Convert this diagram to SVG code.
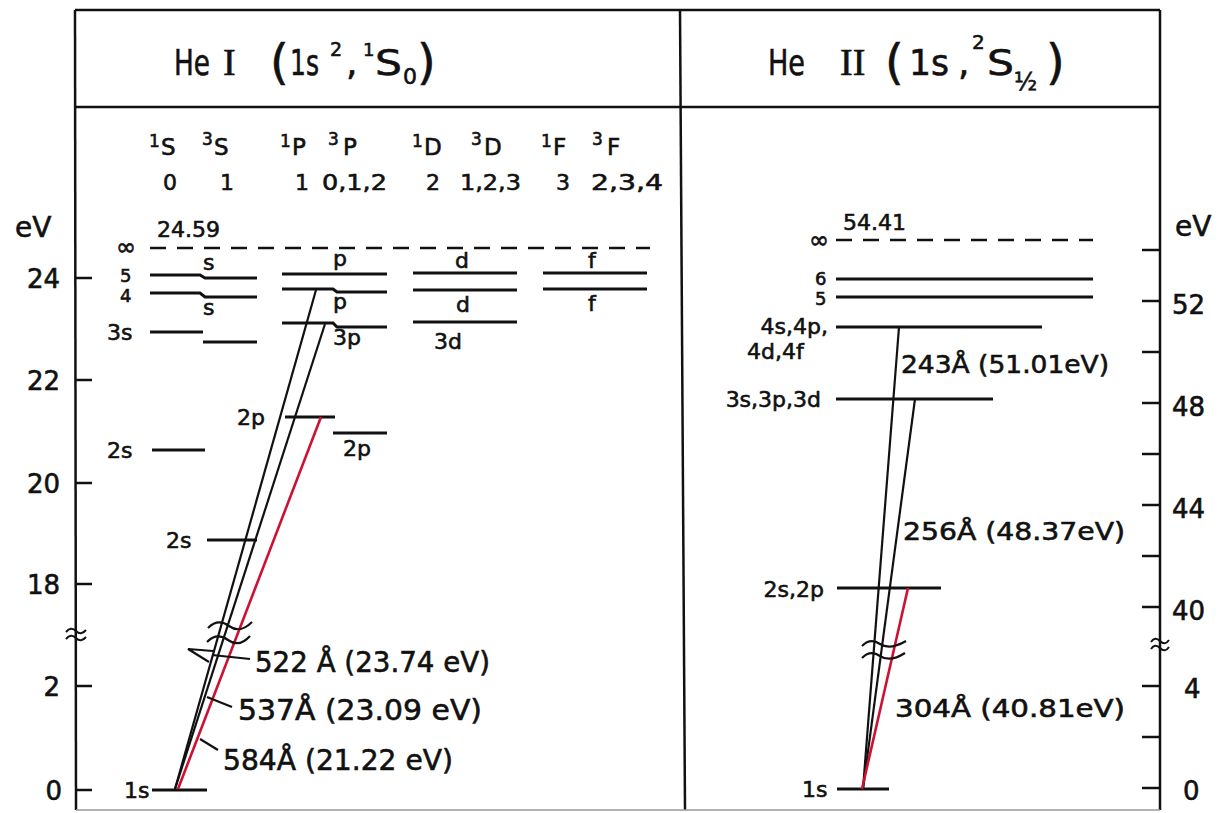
<svg xmlns="http://www.w3.org/2000/svg" width="1223" height="813" viewBox="0 0 1223 813">
<style>
 .ln{stroke:#111;stroke-width:3;fill:none}
 .fr{stroke:#111;stroke-width:2.5;fill:none}
 .tk{stroke:#111;stroke-width:2.5;fill:none}
 .tr{stroke:#111;stroke-width:2.2;fill:none}
 .red{stroke:#cc1133;stroke-width:2.6;fill:none}
 .dash{stroke:#111;stroke-width:2.5;stroke-dasharray:16 11;fill:none}
 text{font-family:"DejaVu Sans","Liberation Sans",sans-serif;fill:#111;stroke:#111;stroke-width:0.6px}
 .ax{font-size:26px}
 .lb{font-size:22px}
 .sm{font-size:18px}
 .tl{font-size:29px}
 .tt{font-size:25px}
 .rn{font-family:"Liberation Serif","DejaVu Serif",serif}
</style>
<rect width="1223" height="813" fill="#fff"/>

<g id="frame">
 <line class="fr" x1="75" y1="10" x2="1160" y2="10"/>
 <line class="fr" x1="75" y1="107" x2="1160" y2="107"/>
 <line class="fr" x1="75" y1="10" x2="76" y2="810"/>
 <line class="fr" x1="1160" y1="10" x2="1160" y2="810"/>
 <line class="fr" x1="680" y1="10" x2="685" y2="810"/>
 <line x1="76" y1="810" x2="1160" y2="810" stroke="#999" stroke-width="1.5"/>
</g>

<g id="title-he1">
 <text x="174" y="75" font-size="36" textLength="36" lengthAdjust="spacingAndGlyphs">He</text>
 <text x="223" y="75" class="rn" font-size="38">I</text>
 <text x="270" y="79" font-size="48">(</text>
 <text x="290" y="75" font-size="36" textLength="29" lengthAdjust="spacingAndGlyphs">1s</text>
 <text x="330" y="56" font-size="19">2</text>
 <text x="346" y="75" font-size="36">,</text>
 <text x="363" y="56" font-size="18">1</text>
 <text x="375" y="75" font-size="36" textLength="27" lengthAdjust="spacingAndGlyphs">S</text>
 <text x="403" y="84" font-size="22">0</text>
 <text x="417" y="79" font-size="48">)</text>
</g>

<g id="title-he2">
 <text x="768" y="75" font-size="36" textLength="37" lengthAdjust="spacingAndGlyphs">He</text>
 <text x="840" y="75" class="rn" font-size="38">II</text>
 <text x="885" y="79" font-size="48">(</text>
 <text x="909" y="75" font-size="36" textLength="40" lengthAdjust="spacingAndGlyphs">1s</text>
 <text x="958" y="75" font-size="36">,</text>
 <text x="972" y="49" font-size="20">2</text>
 <text x="987" y="75" font-size="36" textLength="27" lengthAdjust="spacingAndGlyphs">S</text>
 <text x="1014" y="90" font-size="24">½</text>
 <text x="1046" y="79" font-size="48">)</text>
</g>

<g id="axis-left">
 <text x="15" y="237" font-size="28">eV</text>
 <g class="tk">
  <line x1="76" y1="278" x2="92" y2="278"/>
  <line x1="76" y1="380" x2="92" y2="380"/>
  <line x1="76" y1="483" x2="92" y2="483"/>
  <line x1="76" y1="584" x2="92" y2="584"/>
  <line x1="76" y1="686" x2="92" y2="686"/>
  <line x1="76" y1="790" x2="92" y2="790"/>
  <path d="M66,632 q5,-6 10,-1 t10,-1 M66,639 q5,-6 10,-1 t10,-1" stroke-width="2"/>
 </g>
 <g class="ax" text-anchor="end">
  <text x="60" y="288">24</text>
  <text x="60" y="390">22</text>
  <text x="60" y="493">20</text>
  <text x="60" y="594">18</text>
  <text x="60" y="696">2</text>
  <text x="62" y="800">0</text>
 </g>
</g>

<g id="axis-right">
 <g class="tk">
  <line x1="1142" y1="250" x2="1160" y2="250"/>
  <line x1="1142" y1="301" x2="1160" y2="301"/>
  <line x1="1142" y1="352" x2="1160" y2="352"/>
  <line x1="1142" y1="403" x2="1160" y2="403"/>
  <line x1="1142" y1="454" x2="1160" y2="454"/>
  <line x1="1142" y1="505" x2="1160" y2="505"/>
  <line x1="1142" y1="556" x2="1160" y2="556"/>
  <line x1="1142" y1="607" x2="1160" y2="607"/>
  <line x1="1142" y1="686" x2="1160" y2="686"/>
  <line x1="1142" y1="737" x2="1160" y2="737"/>
  <line x1="1142" y1="788" x2="1160" y2="788"/>
  <path d="M1151,642 q4,-6 9,-1 t9,-1 M1151,649 q4,-6 9,-1 t9,-1" stroke-width="2"/>
 </g>
 <g class="ax">
  <text x="1175" y="236" font-size="28">eV</text>
  <text x="1172" y="314">52</text>
  <text x="1172" y="416">48</text>
  <text x="1172" y="518">44</text>
  <text x="1172" y="620">40</text>
  <text x="1184" y="698">4</text>
  <text x="1183" y="800">0</text>
 </g>
</g>

<g id="term-labels">
 <text y="155"><tspan x="149" y="147" font-size="17">1</tspan><tspan x="161" y="155" font-size="23">S</tspan></text>
 <text y="155"><tspan x="202" y="145" font-size="17">3</tspan><tspan x="214" y="155" font-size="23">S</tspan></text>
 <text y="155"><tspan x="280" y="147" font-size="17">1</tspan><tspan x="292" y="155" font-size="23">P</tspan></text>
 <text y="155"><tspan x="328" y="145" font-size="17">3</tspan><tspan x="343" y="155" font-size="23">P</tspan></text>
 <text y="155"><tspan x="412" y="147" font-size="17">1</tspan><tspan x="424" y="155" font-size="23">D</tspan></text>
 <text y="155"><tspan x="471" y="145" font-size="17">3</tspan><tspan x="484" y="155" font-size="23">D</tspan></text>
 <text y="155"><tspan x="541" y="147" font-size="17">1</tspan><tspan x="553" y="155" font-size="23">F</tspan></text>
 <text y="155"><tspan x="592" y="145" font-size="17">3</tspan><tspan x="607" y="155" font-size="23">F</tspan></text>
 <g class="lb">
  <text x="163" y="190">0</text>
  <text x="220" y="190">1</text>
  <text x="295" y="190">1</text>
  <text x="322" y="190" textLength="65" lengthAdjust="spacingAndGlyphs">0,1,2</text>
  <text x="426" y="190">2</text>
  <text x="460" y="190" textLength="61" lengthAdjust="spacingAndGlyphs">1,2,3</text>
  <text x="556" y="190">3</text>
  <text x="591" y="190" textLength="72" lengthAdjust="spacingAndGlyphs">2,3,4</text>
 </g>
</g>

<g id="he1-limit">
 <line class="dash" x1="150" y1="248" x2="650" y2="248"/>
 <text x="116" y="255" font-size="24">∞</text>
 <text x="157" y="237" class="lb">24.59</text>
</g>

<g id="he1-S-levels" class="lb">
 <polyline class="ln" points="150,275 200,275 205,278 257,278"/>
 <polyline class="ln" points="150,293 200,293 205,297 257,297"/>
 <line class="ln" x1="150" y1="332" x2="203" y2="332"/>
 <line class="ln" x1="203" y1="342" x2="257" y2="342"/>
 <text x="120" y="282" class="sm">5</text>
 <text x="120" y="302" class="sm">4</text>
 <text x="203" y="270">s</text>
 <text x="203" y="315">s</text>
 <text x="107" y="340">3s</text>
</g>
<g id="he1-2s-singlet" class="lb">
 <line class="ln" x1="152" y1="450" x2="205" y2="450"/>
 <text x="107" y="458">2s</text>
</g>
<g id="he1-2s-triplet" class="lb">
 <line class="ln" x1="207" y1="540" x2="257" y2="540"/>
 <text x="166" y="548">2s</text>
</g>
<g id="he1-1s" class="lb">
 <line class="ln" x1="152" y1="790" x2="207" y2="790"/>
 <text x="124" y="798">1s</text>
</g>

<g id="he1-P-levels" class="lb">
 <line class="ln" x1="282" y1="274" x2="387" y2="274"/>
 <polyline class="ln" points="282,289 333,289 337,292 387,292"/>
 <polyline class="ln" points="282,323 333,323 337,327 387,327"/>
 <text x="333" y="266">p</text>
 <text x="333" y="309">p</text>
 <text x="333" y="345">3p</text>
</g>
<g id="he1-2p-singlet" class="lb">
 <line class="ln" x1="285" y1="417" x2="335" y2="417"/>
 <text x="237" y="425">2p</text>
</g>
<g id="he1-2p-triplet" class="lb">
 <line class="ln" x1="333" y1="433" x2="387" y2="433"/>
 <text x="343" y="456">2p</text>
</g>

<g id="he1-D-levels" class="lb">
 <line class="ln" x1="413" y1="273" x2="517" y2="273"/>
 <line class="ln" x1="413" y1="290" x2="517" y2="290"/>
 <line class="ln" x1="413" y1="322" x2="517" y2="322"/>
 <text x="455" y="268">d</text>
 <text x="456" y="312">d</text>
 <text x="434" y="349">3d</text>
</g>

<g id="he1-F-levels" class="lb">
 <line class="ln" x1="543" y1="273" x2="647" y2="273"/>
 <line class="ln" x1="543" y1="289" x2="647" y2="289"/>
 <text x="588" y="268">f</text>
 <text x="588" y="311">f</text>
</g>

<g id="he2-limit">
 <line class="dash" x1="836" y1="240" x2="1093" y2="240"/>
 <text x="809" y="248" font-size="24">∞</text>
 <text x="843" y="230" class="lb">54.41</text>
</g>
<g id="he2-n6" class="lb">
 <line class="ln" x1="836" y1="279" x2="1093" y2="279"/>
 <text x="815" y="285" class="sm">6</text>
</g>
<g id="he2-n5" class="lb">
 <line class="ln" x1="836" y1="297" x2="1093" y2="297"/>
 <text x="815" y="305" class="sm">5</text>
</g>
<g id="he2-n4" class="lb">
 <line class="ln" x1="836" y1="327" x2="1042" y2="327"/>
 <text x="828" y="334" text-anchor="end">4s,4p,</text>
 <text x="747" y="359">4d,4f</text>
</g>
<g id="he2-n3" class="lb">
 <line class="ln" x1="836" y1="399" x2="993" y2="399"/>
 <text x="821" y="407" text-anchor="end">3s,3p,3d</text>
</g>
<g id="he2-n2" class="lb">
 <line class="ln" x1="837" y1="588" x2="941" y2="588"/>
 <text x="824" y="597" text-anchor="end">2s,2p</text>
</g>
<g id="he2-n1" class="lb">
 <line class="ln" x1="837" y1="789" x2="889" y2="789"/>
 <text x="802" y="797">1s</text>
</g>

<g id="connectors">
 <line class="tr" x1="316" y1="290" x2="175" y2="789"/>
 <line class="tr" x1="325" y1="324" x2="175" y2="789"/>
 <line class="red" x1="321" y1="417" x2="178" y2="789"/>
 <path class="tr" d="M208,628 c7,-7 14,-7 21,-2 s14,5 23,-4 M207,642 c7,-7 14,-7 21,-2 s14,5 22,-4"/>
 <polyline class="tr" points="213,651 188,649 209,662"/>
 <line class="tr" x1="212" y1="655" x2="250" y2="659"/>
 <line class="tr" x1="207" y1="697" x2="232" y2="707"/>
 <line class="tr" x1="200" y1="739" x2="218" y2="750"/>

 <line class="tr" x1="899" y1="327" x2="863" y2="789"/>
 <line class="tr" x1="915" y1="399" x2="863" y2="789"/>
 <line class="red" x1="908" y1="588" x2="862" y2="789"/>
 <path class="tr" d="M862,646 c6,-6 12,-6 18,-2 s14,4 26,-3 M862,658 c6,-6 12,-6 18,-2 s14,4 25,-3"/>
</g>

<g id="transition-labels">
 <text x="255" y="672" class="tl" textLength="235" lengthAdjust="spacingAndGlyphs">522 Å (23.74 eV)</text>
 <text x="238" y="720" class="tl" textLength="244" lengthAdjust="spacingAndGlyphs">537Å (23.09 eV)</text>
 <text x="223" y="770" class="tl" textLength="230" lengthAdjust="spacingAndGlyphs">584Å (21.22 eV)</text>
 <text x="901" y="373" class="tt" textLength="208" lengthAdjust="spacingAndGlyphs">243Å (51.01eV)</text>
 <text x="903" y="540" class="tt" textLength="222" lengthAdjust="spacingAndGlyphs">256Å (48.37eV)</text>
 <text x="895" y="717" class="tt" textLength="230" lengthAdjust="spacingAndGlyphs">304Å (40.81eV)</text>
</g>
</svg>
